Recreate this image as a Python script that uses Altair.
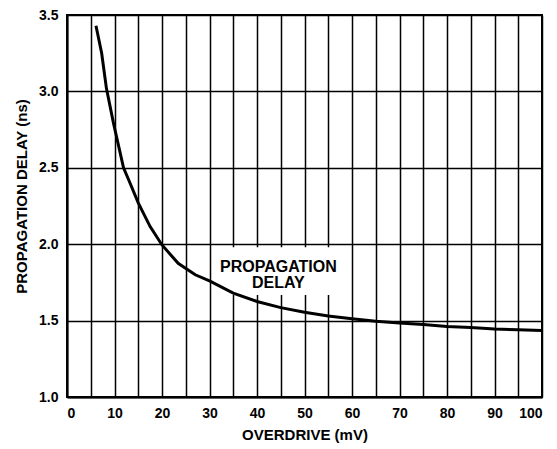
import altair as alt
import pandas as pd

overdrive = [6.1, 7.3, 8.3, 9.8, 11.9, 13.0, 15.0, 17.5, 20.0, 23.4, 27.0, 30.0, 35.0,
             40.0, 45.0, 50.0, 55.0, 60.0, 65.0, 70.0, 75.0, 80.0, 85.0, 90.0, 95.0, 100.0]
delay = [3.43, 3.25, 3.02, 2.79, 2.50, 2.42, 2.27, 2.115, 1.995, 1.875, 1.80, 1.76, 1.68,
         1.625, 1.585, 1.555, 1.53, 1.512, 1.495, 1.485, 1.475, 1.462, 1.455, 1.445, 1.44, 1.435]

x_ticks = list(range(0, 101, 5))
y_ticks = [1.0, 1.5, 2.0, 2.5, 3.0, 3.5]

label_lines = ["PROPAGATION", "DELAY"]
label_x = [44.5, 44.5]
label_y = [1.853, 1.744]
box = {"x": [31.0], "x2": [58.5], "y": [1.668], "y2": [1.98]}

FONT = "Liberation Sans"

curve = pd.DataFrame({"x": overdrive, "y": delay})
labels = pd.DataFrame({"t": label_lines, "x": label_x, "y": label_y})
boxdf = pd.DataFrame(box)

xscale = alt.Scale(domain=[0, 100], nice=False, zero=False)
yscale = alt.Scale(domain=[1.0, 3.5], nice=False, zero=False)


def X():
    return alt.X("x:Q", scale=xscale,
                 axis=alt.Axis(values=x_ticks,
                               labelExpr="datum.value % 10 == 0 ? datum.label : ''",
                               title="OVERDRIVE (mV)", titlePadding=7))


def Y():
    return alt.Y("y:Q", scale=yscale,
                 axis=alt.Axis(values=y_ticks, format=".1f",
                               title="PROPAGATION DELAY (ns)", titlePadding=9,
                               titleY=181))


line = alt.Chart(curve).mark_line(color="black", strokeWidth=3).encode(x=X(), y=Y())

rect = alt.Chart(boxdf).mark_rect(color="white").encode(
    x=X(), x2="x2:Q", y=Y(), y2="y2:Q",
)

text = alt.Chart(labels).mark_text(font=FONT, fontWeight="bold", fontSize=16,
                                   color="black", align="center", baseline="middle").encode(
    x=X(), y=Y(), text="t:N",
)

chart = alt.layer(rect, text, line).properties(
    width=475, height=382,
    autosize="none",
    padding={"left": 59, "top": 7, "right": 7, "bottom": 46},
).configure_view(
    stroke="black", strokeWidth=2
).configure_axis(
    grid=True, gridColor="black", gridWidth=1.5, gridOpacity=1,
    domainColor="black", domainWidth=2,
    ticks=False,
    labelFont=FONT, labelFontWeight="bold", labelFontSize=14, labelColor="black",
    labelPadding=9,
    titleFont=FONT, titleFontWeight="bold", titleFontSize=15, titleColor="black",
)

chart.save("out.html", embed_options={"renderer": "svg", "actions": False})
